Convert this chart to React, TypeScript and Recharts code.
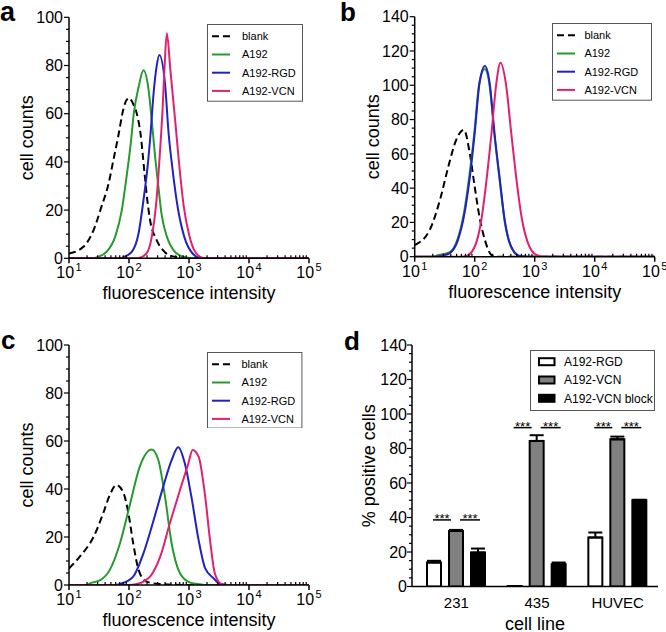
import React from 'react';
import { LineChart, Line, XAxis, YAxis, Legend, BarChart, Bar, ErrorBar, LabelList } from 'recharts';

const FONT = '"Liberation Sans", Arial, Helvetica, sans-serif';

type Pt = [number, number];

// ---------- tick values ----------
const logTicks = [
  10, 20, 30, 40, 50, 60, 70, 80, 90,
  100, 200, 300, 400, 500, 600, 700, 800, 900,
  1000, 2000, 3000, 4000, 5000, 6000, 7000, 8000, 9000,
  10000, 20000, 30000, 40000, 50000, 60000, 70000, 80000, 90000,
  100000,
];
const countTicks100 = [0, 5, 10, 15, 20, 25, 30, 35, 40, 45, 50, 55, 60, 65, 70, 75, 80, 85, 90, 95, 100];
const countTicks140 = [0, 5, 10, 15, 20, 25, 30, 35, 40, 45, 50, 55, 60, 65, 70, 75, 80, 85, 90, 95, 100, 105, 110, 115, 120, 125, 130, 135, 140];

// ---------- histogram series ----------
const seriesNames = ['blank', 'A192', 'A192-RGD', 'A192-VCN'];
const seriesColors = ['#000000', '#259a2e', '#2121c4', '#e3206e'];
const seriesDash = ['7 4', undefined, undefined, undefined];

// panel a: [fluorescence intensity, cell counts]
const blankA: Pt[] = [[10, 2], [17.4, 4.8], [25.7, 11.7], [34.7, 21.4], [45.7, 31], [55, 40.8], [66, 50.5], [80, 61.5], [90, 65.5], [101, 66.5], [115, 64.5], [135, 60], [155, 52], [182, 35], [200, 25], [224, 16], [288, 7.6], [398, 2.5], [562, 0.7], [1000, 0], [100000, 0]];
const a192A: Pt[] = [[10, 0], [25, 0], [28.8, 0.4], [42.7, 2.8], [58.9, 9], [75.9, 20], [91.2, 34], [107, 47.7], [120, 60], [144.5, 71], [174, 78], [209, 71], [240, 57], [269, 43.6], [309, 29.7], [347, 18.7], [427, 9], [550, 3.4], [794, 0.7], [1260, 0], [100000, 0]];
const rgdA: Pt[] = [[10, 0], [70, 0], [79.4, 0.4], [112, 2.8], [144.5, 10.4], [174, 24], [204, 38], [229, 51.9], [257, 68.5], [288, 79.5], [320, 84.4], [398, 72.6], [457, 51.9], [525, 38], [646, 21.4], [832, 9], [1148, 2], [1585, 0], [100000, 0]];
const vcnA: Pt[] = [[10, 0], [140, 0], [195, 2], [240, 9], [282, 22], [324, 42], [363, 62], [389, 78], [427, 93.4], [490, 78], [589, 57], [692, 38], [813, 22], [1000, 10], [1288, 2.4], [1778, 0], [100000, 0]];

// panel b
const blankB: Pt[] = [[10, 6.8], [17.8, 15.6], [26.3, 33], [36.3, 52.5], [49, 68], [66, 74], [83, 60], [100, 40.8], [120, 23.3], [148, 9.7], [190, 1], [224, 0], [100000, 0]];
const a192B: Pt[] = [[10, 0], [20, 0], [25, 1], [37, 2.3], [51.5, 10], [66.5, 26], [82, 48], [99, 73], [119, 101], [147, 109.5], [177, 100], [213, 71], [262, 44], [315, 21], [405, 5.6], [560, 0.4], [800, 0], [100000, 0]];
const rgdB: Pt[] = [[10, 0], [22, 0], [26.3, 0.4], [38, 2], [52.5, 9.7], [67.6, 25.3], [83.2, 46.7], [100, 72], [120, 101], [148, 111.2], [178, 101], [214, 72], [263, 44.7], [316, 21.4], [407, 5.8], [562, 0.4], [800, 0], [100000, 0]];
const vcnB: Pt[] = [[10, 0], [60, 0], [72.4, 0.4], [100, 5.8], [129, 21.4], [155, 42.8], [190.5, 72], [229, 101], [269, 113.2], [331, 101], [407, 72], [490, 46.7], [603, 23.3], [776, 7.8], [1072, 1], [1413, 0], [100000, 0]];

// panel c
const blankC: Pt[] = [[10, 6.9], [15.1, 11.8], [25.7, 20.1], [37.2, 29.9], [47.9, 37.5], [61.7, 41.7], [81.3, 38.2], [97.7, 29.9], [117.5, 17.4], [144.5, 6.3], [195, 1.4], [331, 0.4], [1000, 0], [100000, 0]];
const a192C: Pt[] = [[10, 0], [20, 0], [22.4, 0.7], [33.1, 2], [47.9, 6.3], [70.8, 17.4], [104.7, 34], [151, 49.3], [240, 56.5], [309, 52], [398, 36.8], [513, 17.4], [708, 4.9], [1047, 1], [1514, 0.3], [2000, 0], [100000, 0]];
const rgdC: Pt[] = [[10, 0], [60, 0], [70.8, 0.4], [117.5, 3.5], [174, 13.2], [257, 27], [372, 41], [513, 52], [661, 57.4], [851, 50.7], [1096, 36.8], [1445, 18.8], [1862, 6.9], [2570, 2.8], [3311, 0.4], [4500, 0], [100000, 0]];
const vcnC: Pt[] = [[10, 0], [100, 0], [135, 0.4], [224, 3.5], [331, 11.8], [479, 25.7], [708, 39.6], [977, 50.7], [1148, 56.3], [1445, 53.5], [1862, 36.8], [2239, 18.8], [2692, 4.9], [3467, 0.4], [4500, 0], [100000, 0]];

// ---------- panel d ----------
const cellLines = ['231', '435', 'HUVEC'];
const rgdMean = [13.9, 0.3, 28.4];
const rgdSem = [1.0, 0, 2.9];
const vcnMean = [32.2, 84.4, 85.3];
const vcnSem = [0.6, 3.3, 1.6];
const blockMean = [19.7, 12.9, 50.0];
const blockSem = [2.3, 1.0, 0.3];
const sigLevel = [38.6, 92.1, 92.1];
const barNames = ['A192-RGD', 'A192-VCN', 'A192-VCN block'];
const barFills = ['#ffffff', '#808080', '#000000'];

const barData = cellLines.map((c, i) => ({
  cell: c,
  rgd: rgdMean[i], rgdErr: [0, rgdSem[i]],
  vcn: vcnMean[i], vcnErr: [0, vcnSem[i]],
  block: blockMean[i], blockErr: [0, blockSem[i]],
  sig: sigLevel[i],
}));

const toPts = (arr: Pt[]) => arr.map(([x, y]) => ({ x, y }));

const AX = { stroke: '#000', strokeWidth: 1.5 };
const BAR_SIZE = 14;
const BAR_GAP = 8;

// ---------- tick renderers ----------
const isDecade = (v: number) => Math.abs(Math.log10(v) - Math.round(Math.log10(v))) < 1e-6;

const LogBottomTick = (p: any) => {
  const v = p.payload.value;
  const { x, y } = p;
  if (isDecade(v)) {
    const e = Math.round(Math.log10(v));
    return (
      <g>
        <line x1={x} x2={x} y1={y} y2={y + 5} stroke="#000" strokeWidth={1.5} />
        <text x={x} y={y + 20} textAnchor="middle" fontSize={16} fontFamily={FONT} fill="#000">
          <tspan>10</tspan>
          <tspan dx={1.5} dy={-7} fontSize={11}>{e}</tspan>
        </text>
      </g>
    );
  }
  return <line x1={x} x2={x} y1={y} y2={y - 3} stroke="#000" strokeWidth={1.2} />;
};

const LogTopTick = (p: any) => {
  const v = p.payload.value;
  const len = isDecade(v) ? 5 : 3;
  return <line x1={p.x} x2={p.x} y1={p.y} y2={p.y - len} stroke="#000" strokeWidth={1.2} />;
};

const makeLeftTick = (fontSize: number, gap: number) => (p: any) => {
  const v = p.payload.value;
  const major = v % 20 === 0;
  const len = major ? 5 : 3;
  return (
    <g>
      <line x1={p.x - len} x2={p.x} y1={p.y} y2={p.y} stroke="#000" strokeWidth={1.2} />
      {major && (
        <text x={p.x - gap} y={p.y} dy="0.36em" textAnchor="end" fontSize={fontSize} fontFamily={FONT} fill="#000">{v}</text>
      )}
    </g>
  );
};
const LeftTickHist = makeLeftTick(16, 6);
const LeftTickBar = makeLeftTick(16, 5);

const RightTick = (p: any) => (
  <line x1={p.x - 4} x2={p.x} y1={p.y} y2={p.y} stroke="#000" strokeWidth={1.2} />
);

const CatBottomTick = (p: any) => (
  <text x={p.x} y={p.y + 21.5} textAnchor="middle" fontSize={15} fontFamily={FONT} fill="#000">{p.payload.value}</text>
);
const CatTopTick = (p: any) => (
  <line x1={p.x} x2={p.x} y1={p.y} y2={p.y - 5} stroke="#000" strokeWidth={1.5} />
);

const makeXTitle = (text: string, dy: number, fontSize: number) => (p: any) => {
  const vb = p.viewBox;
  return (
    <text x={vb.x + vb.width / 2} y={vb.y + dy} textAnchor="middle" fontSize={fontSize} fontFamily={FONT} fill="#000">{text}</text>
  );
};
const makeYTitle = (text: string, dist: number, fontSize: number) => (p: any) => {
  const vb = p.viewBox;
  const cx = vb.x + vb.width - dist;
  const cy = vb.y + vb.height / 2;
  return (
    <text x={cx} y={cy} transform={`rotate(-90, ${cx}, ${cy})`} textAnchor="middle" fontSize={fontSize} fontFamily={FONT} fill="#000">{text}</text>
  );
};

// ---------- legends ----------
const LineLegendBox = ({ width, height, textX }: { width: number; height: number; textX: number }) => (
  <svg width={width} height={height} style={{ display: 'block' }}>
    <rect x={0.5} y={0.5} width={width - 1} height={height - 1} fill="#fff" stroke="#555" strokeWidth={1} />
    {seriesNames.map((n, i) => {
      const cy = 12.3 + i * 18.2;
      return (
        <g key={n}>
          <line x1={5} x2={23} y1={cy} y2={cy} stroke={seriesColors[i]} strokeWidth={2} strokeDasharray={seriesDash[i]} />
          <text x={textX} y={cy} dy="0.36em" fontSize={11} fontFamily={FONT} fill="#000">{n}</text>
        </g>
      );
    })}
  </svg>
);

const BarLegendBox = ({ width, height }: { width: number; height: number }) => (
  <svg width={width} height={height} style={{ display: 'block' }}>
    <rect x={0.5} y={0.5} width={width - 1} height={height - 1} fill="#fff" stroke="#555" strokeWidth={1} />
    {barNames.map((n, i) => {
      const cy = 11.7 + i * 18.3;
      return (
        <g key={n}>
          <rect x={9} y={cy - 3.5} width={15.5} height={7} fill={barFills[i]} stroke="#000" strokeWidth={2} />
          <text x={34} y={cy} dy="0.36em" fontSize={12} fontFamily={FONT} fill="#000">{n}</text>
        </g>
      );
    })}
  </svg>
);

// ---------- significance marks ----------
const SigMarks = (p: any) => {
  const vb = p.viewBox || p;
  const x = Number(vb.x), y = Number(vb.y), w = Number(vb.width), h = Number(vb.height);
  const idx = p.index;
  const lvl = sigLevel[idx];
  const ppu = h / vcnMean[idx];
  const ly = y + h - lvl * ppu;
  const cx = x + w / 2;
  const step = BAR_SIZE + BAR_GAP;
  const segs: [number, number][] = [[cx - step - 1, cx - 5], [cx + 4, cx + step + 2]];
  return (
    <g>
      {segs.map(([a, b], i) => (
        <g key={i}>
          <line x1={a} x2={b} y1={ly} y2={ly} stroke="#000" strokeWidth={1.5} />
          <text x={(a + b) / 2} y={ly + 3} textAnchor="middle" fontSize={13} fontFamily={FONT} fill="#000">***</text>
        </g>
      ))}
    </g>
  );
};

// ---------- histogram panel ----------
type HistProps = {
  left: number; top: number; width: number; height: number;
  margin: { top: number; right: number; bottom: number; left: number };
  series: Pt[][]; yMax: number; yTicks: number[];
  legend: { left: number; top: number; width: number; height: number; textX: number };
};

function Histogram({ left, top, width, height, margin, series, yMax, yTicks, legend }: HistProps) {
  return (
    <div style={{ position: 'absolute', left, top, width, height }}>
      <LineChart width={width} height={height} margin={margin}>
        <XAxis xAxisId="b" type="number" dataKey="x" scale="log" domain={[10, 100000]} allowDataOverflow
          ticks={logTicks} interval={0} tickSize={0} tickMargin={0} tickLine={false} axisLine={AX}
          tick={LogBottomTick} height={30}
          label={{ value: 'fluorescence intensity', content: makeXTitle('fluorescence intensity', 41, 18) }} />
        <XAxis xAxisId="t" orientation="top" type="number" dataKey="x" scale="log" domain={[10, 100000]} allowDataOverflow
          ticks={logTicks} interval={0} tickSize={0} tickMargin={0} tickLine={false} axisLine={AX}
          tick={LogTopTick} height={0} />
        <YAxis yAxisId="l" type="number" domain={[0, yMax]} allowDataOverflow ticks={yTicks} interval={0}
          tickSize={0} tickMargin={0} tickLine={false} axisLine={AX} tick={LeftTickHist} width={60}
          label={{ value: 'cell counts', content: makeYTitle('cell counts', 36, 18) }} />
        <YAxis yAxisId="r" orientation="right" mirror type="number" domain={[0, yMax]} allowDataOverflow ticks={yTicks}
          interval={0} tickSize={0} tickMargin={0} tickLine={false} axisLine={AX} tick={RightTick} width={0} />
        {series.map((s, i) => (
          <Line key={seriesNames[i]} name={seriesNames[i]} xAxisId="b" yAxisId="l" data={toPts(s)} dataKey="y"
            type="monotone" stroke={seriesColors[i]} strokeWidth={2} strokeDasharray={seriesDash[i]}
            dot={false} activeDot={false} isAnimationActive={false} />
        ))}
        <Legend layout="vertical" align="center" verticalAlign="middle"
          wrapperStyle={{ left: legend.left, top: legend.top, width: legend.width, height: legend.height }}
          content={() => <LineLegendBox width={legend.width} height={legend.height} textX={legend.textX} />} />
      </LineChart>
    </div>
  );
}

function BarPanel() {
  const W = 333, H = 322;
  return (
    <div style={{ position: 'absolute', left: 333, top: 310, width: W, height: H }}>
      <BarChart width={W} height={H} data={barData} margin={{ top: 35, right: 8, bottom: 15.5, left: 19 }}
        barSize={BAR_SIZE} barGap={BAR_GAP}>
        <XAxis xAxisId="b" dataKey="cell" padding={{ left: 4, right: 0 }} interval={0} tickSize={0} tickMargin={0}
          tickLine={false} axisLine={AX} tick={CatBottomTick} height={30}
          label={{ value: 'cell line', content: makeXTitle('cell line', 43, 18) }} />
        <XAxis xAxisId="t" orientation="top" dataKey="cell" padding={{ left: 4, right: 0 }} interval={0} tickSize={0}
          tickMargin={0} tickLine={false} axisLine={AX} tick={CatTopTick} height={0} />
        <YAxis yAxisId="l" type="number" domain={[0, 140]} allowDataOverflow ticks={countTicks140} interval={0}
          tickSize={0} tickMargin={0} tickLine={false} axisLine={AX} tick={LeftTickBar} width={60}
          label={{ value: '% positive cells', content: makeYTitle('% positive cells', 37, 18) }} />
        <YAxis yAxisId="r" orientation="right" mirror type="number" domain={[0, 140]} allowDataOverflow
          ticks={countTicks140} interval={0} tickSize={0} tickMargin={0} tickLine={false} axisLine={AX}
          tick={RightTick} width={0} />
        <Bar xAxisId="b" yAxisId="l" dataKey="rgd" name={barNames[0]} fill={barFills[0]} stroke="#000" strokeWidth={2} isAnimationActive={false}>
          <ErrorBar dataKey="rgdErr" direction="y" width={7} stroke="#000" strokeWidth={2} />
        </Bar>
        <Bar xAxisId="b" yAxisId="l" dataKey="vcn" name={barNames[1]} fill={barFills[1]} stroke="#000" strokeWidth={2} isAnimationActive={false}>
          <ErrorBar dataKey="vcnErr" direction="y" width={7} stroke="#000" strokeWidth={2} />
          <LabelList dataKey="sig" content={SigMarks} />
        </Bar>
        <Bar xAxisId="b" yAxisId="l" dataKey="block" name={barNames[2]} fill={barFills[2]} stroke="#000" strokeWidth={2} isAnimationActive={false}>
          <ErrorBar dataKey="blockErr" direction="y" width={7} stroke="#000" strokeWidth={2} />
        </Bar>
        <Legend layout="vertical" align="center" verticalAlign="middle"
          wrapperStyle={{ left: 197, top: 40, width: 125, height: 61 }}
          content={() => <BarLegendBox width={125} height={61} />} />
      </BarChart>
    </div>
  );
}

export default function App() {
  return (
    <div style={{ position: 'absolute', left: 0, top: 0, width: 666, height: 632, background: '#fff', overflow: 'hidden', fontFamily: FONT }}>
      <Histogram left={0} top={0} width={333} height={310}
        margin={{ top: 17.3, right: 24, bottom: 21.7, left: 9 }}
        series={[blankA, a192A, rgdA, vcnA]} yMax={100} yTicks={countTicks100}
        legend={{ left: 206.7, top: 24, width: 96, height: 77.7, textX: 35 }} />
      <Histogram left={333} top={0} width={333} height={310}
        margin={{ top: 16.7, right: 11.3, bottom: 23.3, left: 21.7 }}
        series={[blankB, a192B, rgdB, vcnB]} yMax={140} yTicks={countTicks140}
        legend={{ left: 219.3, top: 23.3, width: 100, height: 77.7, textX: 32.4 }} />
      <Histogram left={0} top={310} width={333} height={322}
        margin={{ top: 35, right: 24, bottom: 17, left: 9 }}
        series={[blankC, a192C, rgdC, vcnC]} yMax={100} yTicks={countTicks100}
        legend={{ left: 207.3, top: 41.7, width: 95.4, height: 76.6, textX: 34.4 }} />
      <BarPanel />
      <svg width={666} height={632} style={{ position: 'absolute', left: 0, top: 0, pointerEvents: 'none' }}>
        <text x={0} y={21} fontSize={27} fontWeight="bold" fontFamily={FONT} fill="#000">a</text>
        <text x={340} y={21} fontSize={26} fontWeight="bold" fontFamily={FONT} fill="#000">b</text>
        <text x={1} y={349} fontSize={26} fontWeight="bold" fontFamily={FONT} fill="#000">c</text>
        <text x={344} y={350} fontSize={26} fontWeight="bold" fontFamily={FONT} fill="#000">d</text>
      </svg>
    </div>
  );
}
